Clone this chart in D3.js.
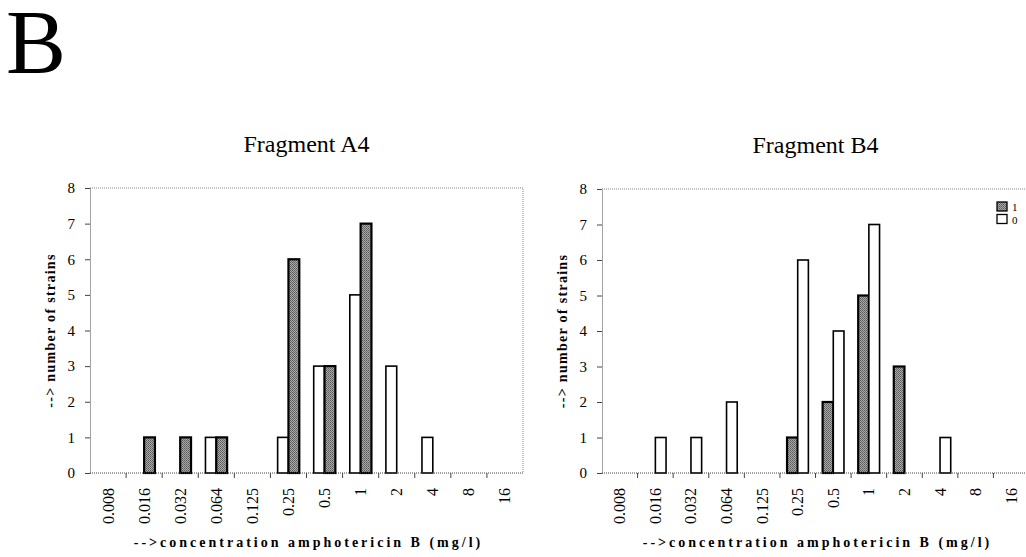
<!DOCTYPE html>
<html>
<head>
<meta charset="utf-8">
<script src="https://cdn.jsdelivr.net/npm/d3@7"></script>
<style>
  html, body { margin: 0; padding: 0; background: #fff; }
  #chart { width: 1026px; height: 557px; }
</style>
</head>
<body>
<div id="chart"></div>
<script>
// concentrations (mg/l)
const concentrations = ["0.008", "0.016", "0.032", "0.064", "0.125", "0.25", "0.5", "1", "2", "4", "8", "16"];
const yTicks = [0, 1, 2, 3, 4, 5, 6, 7, 8];

// Fragment A4: open bar (0) drawn left, hatched (1) right
const a4Open    = [0, 0, 0, 1, 0, 1, 3, 5, 3, 1, 0, 0];
const a4Hatched = [0, 1, 1, 1, 0, 6, 3, 7, 0, 0, 0, 0];

// Fragment B4: hatched (1) drawn left, open (0) right
const b4Hatched = [0, 0, 0, 0, 0, 1, 2, 5, 3, 0, 0, 0];
const b4Open    = [0, 1, 1, 2, 0, 6, 4, 7, 0, 1, 0, 0];

const legendLabels = ["1", "0"];

const W = 1026, H = 557;
const font = "'Liberation Serif', 'Times New Roman', serif";

const svg = d3.select("#chart").append("svg")
    .attr("width", W)
    .attr("height", H)
    .style("font-family", font)
    .style("display", "block");

// hatched fill texture
const defs = svg.append("defs");
const pat = defs.append("pattern")
    .attr("id", "hatch")
    .attr("width", 2).attr("height", 2)
    .attr("patternUnits", "userSpaceOnUse");
pat.append("rect").attr("width", 2).attr("height", 2).attr("fill", "#a8a8a8");
pat.append("rect").attr("width", 1).attr("height", 1).attr("fill", "#5a5a5a");
pat.append("rect").attr("x", 1).attr("y", 1).attr("width", 1).attr("height", 1).attr("fill", "#6e6e6e");

// panel letter
svg.append("text")
    .attr("x", 6)
    .attr("y", 73)
    .attr("fill", "#000")
    .style("font-size", "90px")
    .text("B");

function drawPanel(opts) {
    const { left, right, top, bottom, title, series, legend } = opts;

    const x = d3.scaleBand()
        .domain(concentrations)
        .range([left, right])
        .padding(0);

    const y = d3.scaleLinear()
        .domain([0, 8])
        .range([bottom, top]);

    const inner = d3.scaleBand()
        .domain(series.map((s, i) => i))
        .range([x.bandwidth() * 0.2, x.bandwidth() * 0.8]);

    const g = svg.append("g");

    // plot border (top and right), dotted
    g.append("path")
        .attr("d", `M${left},${top}H${right}V${bottom}`)
        .attr("fill", "none")
        .attr("stroke", "#888")
        .attr("stroke-width", 1)
        .attr("stroke-dasharray", "1,1");

    // title
    g.append("text")
        .attr("x", (left + right) / 2)
        .attr("y", top - 36)
        .attr("text-anchor", "middle")
        .attr("fill", "#000")
        .style("font-size", "24px")
        .text(title);

    // bars
    series.forEach((s, si) => {
        g.append("g")
            .selectAll("rect")
            .data(s.values.map((v, i) => ({ cat: concentrations[i], v })).filter(d => d.v > 0))
            .join("rect")
            .attr("x", d => x(d.cat) + inner(si))
            .attr("y", d => y(d.v))
            .attr("width", inner.bandwidth())
            .attr("height", d => y(0) - y(d.v))
            .attr("fill", s.hatched ? "url(#hatch)" : "#fff")
            .attr("stroke", "#000")
            .attr("stroke-width", s.hatched ? 2.2 : 1.6);
    });

    // y axis
    const yAxis = g.append("g")
        .attr("transform", `translate(${left},0)`)
        .call(d3.axisLeft(y).tickValues(yTicks).tickSize(5).tickSizeOuter(0).tickPadding(10));
    yAxis.select(".domain").attr("stroke", "#444").attr("stroke-dasharray", "1,1");
    yAxis.selectAll(".tick line").attr("stroke", "#444");
    yAxis.selectAll(".tick text")
        .attr("fill", "#000")
        .style("font-family", font)
        .style("font-size", "15px");

    // x axis: ticks at category boundaries
    const xAxis = g.append("g").attr("transform", `translate(0,${bottom})`);
    xAxis.append("line")
        .attr("x1", left).attr("x2", right)
        .attr("stroke", "#444")
        .attr("stroke-dasharray", "1,1");
    xAxis.selectAll(".bound")
        .data(concentrations.slice(1))
        .join("line")
        .attr("class", "bound")
        .attr("x1", d => x(d)).attr("x2", d => x(d))
        .attr("y1", 0).attr("y2", 5)
        .attr("stroke", "#444");
    xAxis.selectAll(".lab")
        .data(concentrations)
        .join("text")
        .attr("class", "lab")
        .attr("transform", d => `translate(${x(d) + x.bandwidth() / 2 + 5.5},15) rotate(-90)`)
        .attr("text-anchor", "end")
        .attr("fill", "#000")
        .style("font-size", "16px")
        .text(d => d);

    // axis titles
    g.append("text")
        .attr("x", (left + right) / 2 + 2)
        .attr("y", bottom + 74)
        .attr("text-anchor", "middle")
        .attr("fill", "#000")
        .style("font-size", "14px")
        .style("font-weight", "bold")
        .style("letter-spacing", "3px")
        .text("-->concentration amphotericin B (mg/l)");

    g.append("text")
        .attr("transform", `translate(${left - 35},${(top + bottom) / 2}) rotate(-90)`)
        .attr("text-anchor", "middle")
        .attr("fill", "#000")
        .style("font-size", "14px")
        .style("font-weight", "bold")
        .style("letter-spacing", "1.3px")
        .text("--> number of strains");

    if (legend) {
        const lg = g.append("g").attr("transform", `translate(${legend.x},${legend.y})`);
        legendLabels.forEach((lab, i) => {
            lg.append("rect")
                .attr("x", 0).attr("y", i * 12.5)
                .attr("width", 10).attr("height", 9)
                .attr("fill", i === 0 ? "url(#hatch)" : "#fff")
                .attr("stroke", "#000")
                .attr("stroke-width", 1.3);
            lg.append("text")
                .attr("x", 15).attr("y", i * 12.5 + 9)
                .attr("fill", "#000")
                .style("font-size", "11px")
                .text(lab);
        });
    }
}

drawPanel({
    left: 90, right: 523, top: 188, bottom: 473,
    title: "Fragment A4",
    series: [
        { values: a4Open, hatched: false },
        { values: a4Hatched, hatched: true }
    ]
});

drawPanel({
    left: 602, right: 1029, top: 189, bottom: 473,
    title: "Fragment B4",
    series: [
        { values: b4Hatched, hatched: true },
        { values: b4Open, hatched: false }
    ],
    legend: { x: 997, y: 202 }
});
</script>
</body>
</html>
